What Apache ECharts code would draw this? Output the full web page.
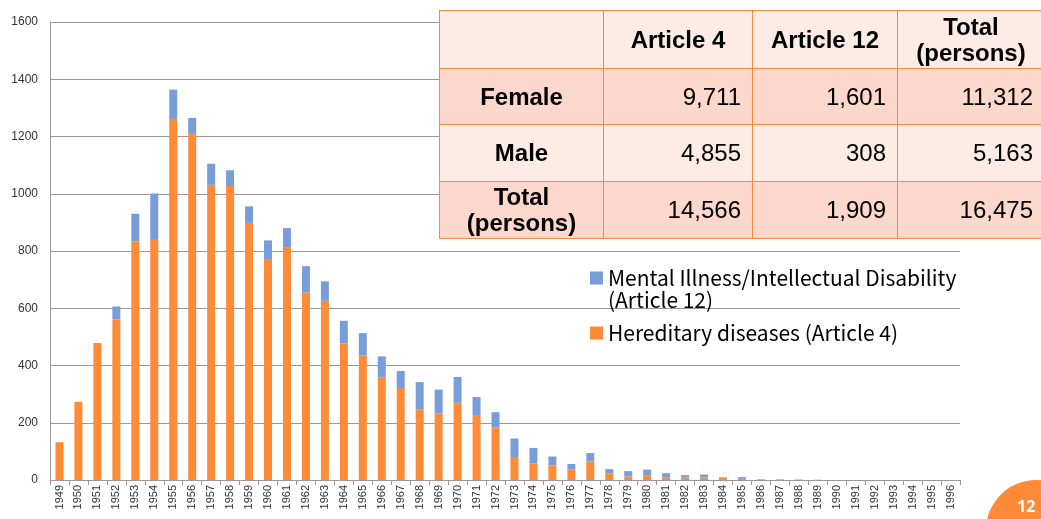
<!DOCTYPE html>
<html>
<head>
<meta charset="utf-8">
<script src="https://cdn.jsdelivr.net/npm/echarts@6/dist/echarts.min.js"></script>
<style>
  body { margin: 0; width: 1041px; height: 519px; overflow: hidden; background: #fff; position: relative; }
  #chart { position: absolute; left: 0; top: 0; width: 1041px; height: 519px; }
  #tbl {
    position: absolute; left: 439px; top: 10px; width: 605px;
    border-collapse: collapse; table-layout: fixed;
    font-family: "Liberation Sans", Arial, sans-serif; color: #000;
  }
  #tbl td { box-sizing: border-box; border: 1.5px solid #F68B40; padding: 0 8px; line-height: 26px; }
  #tbl td.h { font-weight: bold; text-align: center; font-size: 24px; }
  #tbl td.n { text-align: right; font-size: 24px; padding-right: 11px; }
  #tbl tr.light td { background: #FDECE6; }
  #tbl tr.dark td { background: #FBD7CC; }
</style>
</head>
<body>
<div id="chart"></div>
<table id="tbl"></table>
<script>
// years on the x axis
const years = [];
for (let y = 1949; y <= 1996; y++) years.push(String(y));

// Hereditary diseases (Article 4)
const article4 = [132, 273, 479, 561, 833, 842, 1261, 1209, 1031, 1027, 898, 769,
  814, 655, 626, 478, 436, 359, 321, 247, 233, 270, 227, 184, 77, 58, 51, 37, 65,
  23, 12, 17, 10, 8, 9, 8, 4, 1, 2, 1, 0, 0, 0, 0, 0, 0, 0, 0];

// Mental Illness/Intellectual Disability (Article 12)
const article12 = [0, 0, 0, 45, 97, 159, 103, 56, 74, 55, 58, 68,
  66, 92, 68, 78, 77, 73, 60, 95, 83, 90, 63, 53, 68, 54, 31, 19, 29,
  15, 19, 19, 14, 9, 10, 2, 6, 2, 1, 1, 1, 0, 0, 0, 0, 0, 0, 0];

const name4 = 'Hereditary diseases (Article 4)';
const name12 = 'Mental Illness/Intellectual Disability\n(Article 12)';

// summary table
const tableHead = ['', 'Article 4', 'Article 12', 'Total<br>(persons)'];
const tableRows = ['Female', 'Male', 'Total<br>(persons)'];
const tableVals = [
  ['9,711', '1,601', '11,312'],
  ['4,855', '308', '5,163'],
  ['14,566', '1,909', '16,475']
];

const tbl = document.getElementById('tbl');
const widths = [164, 149, 145, 147];
const rowH = [58, 56, 57, 57];
let html = '<tr class="light" style="height:' + rowH[0] + 'px">';
tableHead.forEach((h, i) => { html += '<td class="h" style="width:' + widths[i] + 'px">' + h + '</td>'; });
html += '</tr>';
tableRows.forEach((r, i) => {
  html += '<tr class="' + (i % 2 === 0 ? 'dark' : 'light') + '" style="height:' + rowH[i + 1] + 'px">';
  html += '<td class="h">' + r + '</td>';
  tableVals[i].forEach(v => { html += '<td class="n">' + v + '</td>'; });
  html += '</tr>';
});
tbl.innerHTML = html;

// legend icons in a 13x44 box: square level with the first text line
const iconTop = 'path://M0,0L13,0Z M0,4.5L13,4.5L13,17.5L0,17.5Z M0,44L13,44Z';
const iconMid = 'path://M0,0L13,0Z M0,15.5L13,15.5L13,28.5L0,28.5Z M0,44L13,44Z';

const chart = echarts.init(document.getElementById('chart'));

chart.setOption({
  animation: false,
  grid: { left: 50, right: 81, top: 22, bottom: 39 },
  legend: {
    orient: 'vertical',
    left: 585,
    top: 262,
    itemWidth: 13,
    itemHeight: 44,
    itemGap: 0,
    textStyle: {
      fontFamily: '"Noto Sans CJK JP", sans-serif',
      fontSize: 21,
      color: '#000',
      lineHeight: 22
    },
    data: [
      { name: name12, icon: iconTop },
      { name: name4, icon: iconMid }
    ]
  },
  xAxis: {
    type: 'category',
    data: years,
    axisLine: { lineStyle: { color: '#999' } },
    axisTick: { show: true, interval: 0, length: 5, lineStyle: { color: '#999' } },
    axisLabel: {
      interval: 0,
      rotate: 90,
      margin: 5,
      fontSize: 11,
      color: '#333',
      fontFamily: '"Liberation Sans", Arial, sans-serif'
    }
  },
  yAxis: {
    type: 'value',
    min: 0,
    max: 1600,
    interval: 200,
    axisLine: { show: true, lineStyle: { color: '#999' } },
    axisTick: { show: false },
    axisLabel: {
      fontSize: 12,
      color: '#333',
      margin: 12,
      formatter: v => String(v),
      fontFamily: '"Liberation Sans", Arial, sans-serif'
    },
    splitLine: { lineStyle: { color: '#999', width: 1 } }
  },
  series: [
    {
      name: name4,
      type: 'bar',
      stack: 'total',
      barWidth: 8,
      data: article4,
      itemStyle: { color: '#FF8A38' }
    },
    {
      name: name12,
      type: 'bar',
      stack: 'total',
      barWidth: 8,
      data: article12,
      itemStyle: { color: '#799DDB' }
    }
  ],
  graphic: [
    {
      type: 'circle',
      shape: { cx: 1036, cy: 530, r: 50 },
      style: { fill: '#FF8A38' },
      z: 10
    },
    {
      type: 'text',
      left: 1017,
      top: 499,
      style: {
        text: '12',
        fill: '#fff',
        font: 'bold 16px "Open Sans", sans-serif'
      },
      z: 11
    }
  ]
});
</script>
</body>
</html>
